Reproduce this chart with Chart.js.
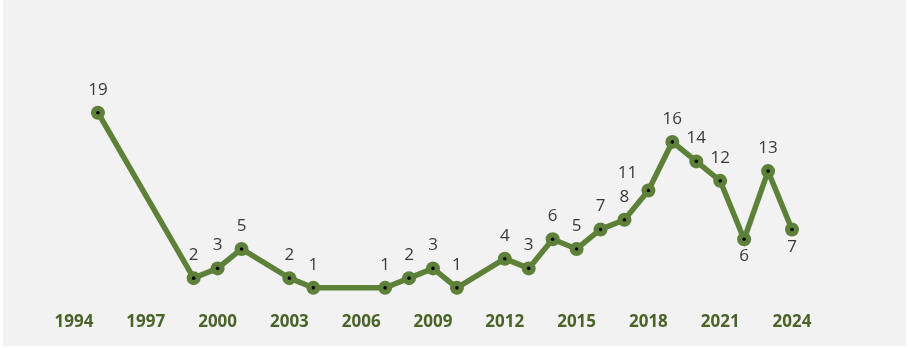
<!DOCTYPE html>
<html>
<head>
<meta charset="utf-8">
<script src="https://cdn.jsdelivr.net/npm/chart.js@4/dist/chart.umd.min.js"></script>
<style>
  html, body { margin: 0; padding: 0; background: #ffffff; }
  #wrap { position: absolute; left: 3px; top: 0; width: 903px; height: 346px; background: #f2f2f2; }
</style>
</head>
<body>
<div id="wrap"><canvas id="chart" width="903" height="346"></canvas></div>
<script>
const years  = [1995, 1999, 2000, 2001, 2003, 2004, 2007, 2008, 2009, 2010, 2012, 2013, 2014, 2015, 2016, 2017, 2018, 2019, 2020, 2021, 2022, 2023, 2024];
const values = [19, 2, 3, 5, 2, 1, 1, 2, 3, 1, 4, 3, 6, 5, 7, 8, 11, 16, 14, 12, 6, 13, 7];
const tickYears = [1994, 1997, 2000, 2003, 2006, 2009, 2012, 2015, 2018, 2021, 2024];

const green = '#5e8139';
const points = years.map((y, i) => ({ x: y, y: values[i] }));

// where a label sits relative to its point (default: above)
const labelShift = { 2018: [-21, -17], 2022: [0, 17], 2024: [0, 18] };

const valueLabels = {
  id: 'valueLabels',
  afterDatasetsDraw(chart) {
    const ctx = chart.ctx;
    const meta = chart.getDatasetMeta(0);
    ctx.save();
    ctx.font = '17px "Open Sans"';
    ctx.fillStyle = '#3a3a3a';
    ctx.textAlign = 'center';
    ctx.textBaseline = 'middle';
    meta.data.forEach((pt, i) => {
      const s = labelShift[years[i]] || [0, -23];
      ctx.fillText(String(values[i]), pt.x + s[0], pt.y + s[1]);
    });
    ctx.restore();
  }
};

new Chart(document.getElementById('chart'), {
  type: 'line',
  data: {
    datasets: [{
      data: points,
      order: 2,
      clip: false,
      borderColor: green,
      borderWidth: 5.5,
      pointRadius: 7,
      pointBackgroundColor: green,
      pointBorderWidth: 0,
      tension: 0
    }, {
      data: points,
      order: 1,
      clip: false,
      showLine: false,
      pointRadius: 1.8,
      pointBackgroundColor: '#000000',
      pointBorderWidth: 0
    }]
  },
  options: {
    responsive: false,
    animation: false,
    layout: { padding: { left: 71, right: 114, top: 103, bottom: 0 } },
    plugins: { legend: { display: false }, tooltip: { enabled: false } },
    scales: {
      x: {
        type: 'linear',
        min: tickYears[0],
        max: tickYears[tickYears.length - 1],
        grid: { display: false, drawTicks: false },
        border: { display: false },
        afterBuildTicks: axis => { axis.ticks = tickYears.map(v => ({ value: v })); },
        ticks: {
          padding: 14,
          maxRotation: 0,
          autoSkip: false,
          color: '#4a6329',
          font: { family: '"Open Sans"', size: 17, weight: 'bold' },
          callback: v => String(v)
        }
      },
      y: { display: false, min: 0, max: 20 }
    }
  },
  plugins: [valueLabels]
});
</script>
</body>
</html>
